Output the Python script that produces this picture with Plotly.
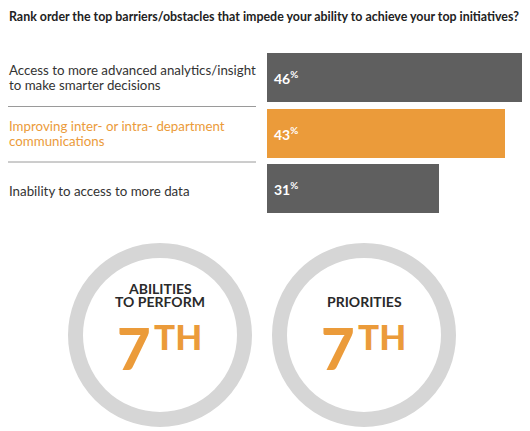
import plotly.graph_objects as go

W, H = 530, 431

title = "Rank order the top barriers/obstacles that impede your ability to achieve your top initiatives?"
categories = [
    "Access to more advanced analytics/insight<br>to make smarter decisions",
    "Improving inter- or intra- department<br>communications",
    "Inability to access to more data",
]
values = [46, 43, 31]
highlight = [False, True, False]

circle_labels = ["ABILITIES<br>TO PERFORM", "PRIORITIES"]
ranks = ["7", "7"]
rank_suffix = ["TH", "TH"]

DARK = "#5f5f5f"
ORANGE = "#eb9b3a"
TEXT = "#333333"
RING = "#d6d6d6"

def px(x):
    return x / W

def py(y):
    return 1 - y / H

bar_colors = [ORANGE if h else DARK for h in highlight]
ypos = list(range(len(values)))

fig = go.Figure()
fig.add_trace(go.Bar(
    x=values,
    y=ypos,
    orientation="h",
    width=0.883,
    marker=dict(color=bar_colors, line=dict(width=0)),
    hoverinfo="skip",
))

annotations = []
shapes = []

# value labels on bars
for v, yv in zip(values, ypos):
    annotations.append(dict(
        text=f"<b>{v}<sup>%</sup></b>", x=0, y=yv, xref="x", yref="y",
        xanchor="left", yanchor="middle", xshift=5, showarrow=False,
        font=dict(family="Lato", size=14, color="white"),
    ))

# title
annotations.append(dict(
    text=f"<b>{title}</b>", x=px(7), y=py(17), xref="paper", yref="paper",
    xanchor="left", yanchor="middle", showarrow=False,
    font=dict(family="Lato", size=12.4, color="#222222"),
))

# left labels
row_h = 55.5
top = 50
for i, (cat, h) in enumerate(zip(categories, highlight)):
    lines = cat.split("<br>")
    cy = top + row_h * (i + 0.5)
    n = len(lines)
    for j, line in enumerate(lines):
        ly = cy + (j - (n - 1) / 2) * 15 + (2 if n == 1 else 0)
        annotations.append(dict(
            text=line, x=px(7), y=py(ly), xref="paper", yref="paper",
            xanchor="left", yanchor="middle", showarrow=False,
            font=dict(family="Lato", size=13.3, color=ORANGE if h else TEXT),
        ))
    if i < len(categories) - 1:
        ly = top + row_h * (i + 1) + 1
        shapes.append(dict(type="line", xref="paper", yref="paper",
                           x0=px(8), x1=px(256), y0=py(ly), y1=py(ly),
                           line=dict(color="#9a9a9a", width=1)))

# circles
centers = [160, 364]
cy = 335
R = 92
thick = 15
r = R - thick / 2
for cx, lab, rk, suf in zip(centers, circle_labels, ranks, rank_suffix):
    shapes.append(dict(type="circle", xref="paper", yref="paper",
                       x0=px(cx - r), x1=px(cx + r), y0=py(cy + r), y1=py(cy - r),
                       line=dict(color=RING, width=thick), fillcolor="rgba(0,0,0,0)"))
    lines = lab.split("<br>")
    nl = len(lines)
    for j, line in enumerate(lines):
        ly = 301 - (nl - 1 - j) * 13
        annotations.append(dict(
            text=line, x=px(cx), y=py(ly), xref="paper", yref="paper",
            xanchor="center", yanchor="middle", showarrow=False,
            font=dict(family="Lato", size=14, color="#2a2a2a", weight=700),
        ))
    annotations.append(dict(
        text=rk, x=px(cx - 7), y=py(347), xref="paper", yref="paper",
        xanchor="right", yanchor="middle", showarrow=False,
        font=dict(family="Lato", size=58, color=ORANGE, weight=900),
    ))
    annotations.append(dict(
        text=suf, x=px(cx - 8), y=py(336), xref="paper", yref="paper",
        xanchor="left", yanchor="middle", showarrow=False,
        font=dict(family="Lato", size=35, color=ORANGE, weight=900),
    ))

fig.update_layout(
    width=W, height=H,
    margin=dict(l=0, r=0, t=0, b=0),
    paper_bgcolor="white", plot_bgcolor="white",
    showlegend=False,
    bargap=0,
    xaxis=dict(domain=[px(267), 1], range=[0, (W - 267) / 5.54],
               visible=False, fixedrange=True),
    yaxis=dict(domain=[py(top + 3 * row_h), py(top)], range=[2.5, -0.5],
               visible=False, fixedrange=True),
    annotations=annotations,
    shapes=shapes,
)

fig.write_html("out.html", config={"displayModeBar": False},
               post_script="document.body.style.margin='0';document.body.style.overflow='hidden';")
